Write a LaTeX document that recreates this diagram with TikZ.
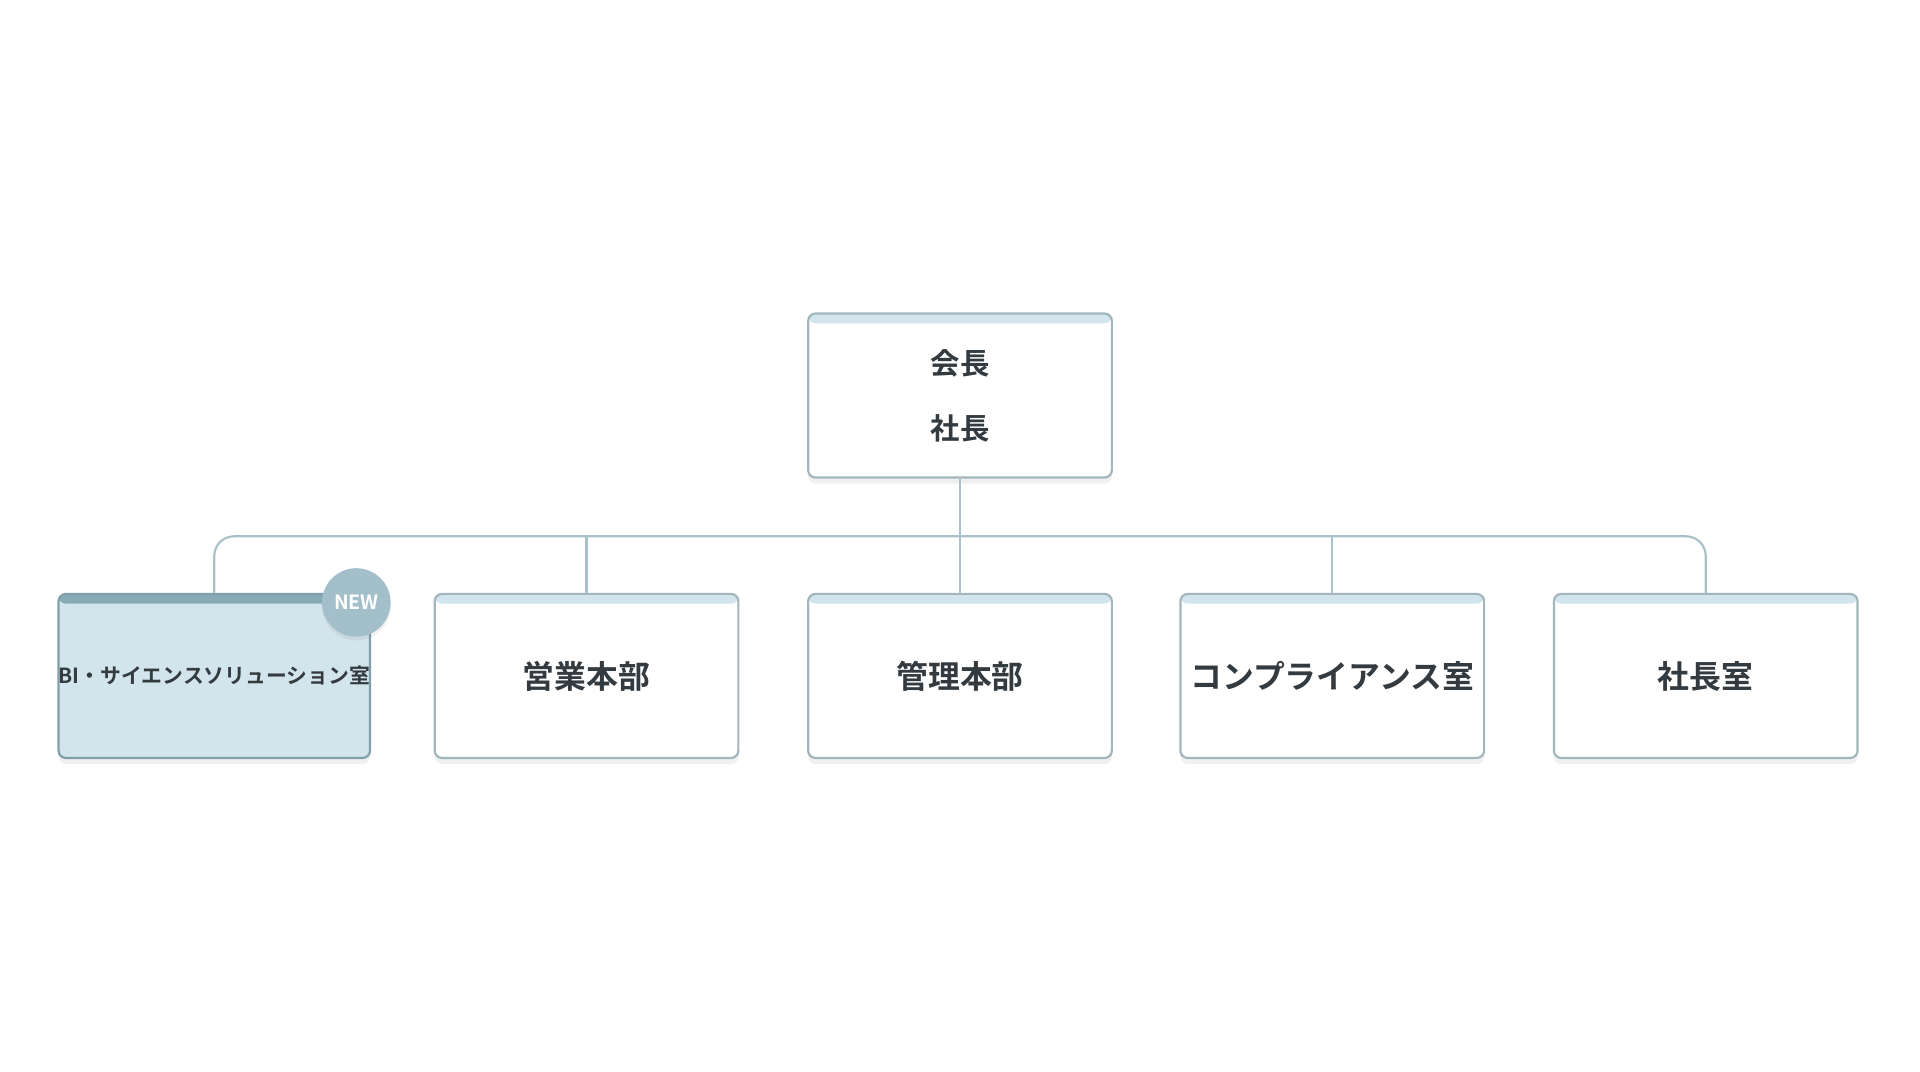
\documentclass[tikz,border=0pt]{standalone}
\usepackage{fontspec}
\setmainfont{Noto Sans CJK JP}[BoldFont={* Bold}]
\usetikzlibrary{shadows}
\definecolor{bord}{HTML}{A3B6BD}
\definecolor{bar}{HTML}{D2E5EC}
\definecolor{nfill}{HTML}{D3E5EC}
\definecolor{nbord}{HTML}{7FA0AA}
\definecolor{nbar}{HTML}{88AAB4}
\definecolor{newc}{HTML}{A3C0CA}
\definecolor{line}{HTML}{A9C2CA}
\definecolor{txt}{HTML}{333B40}
\begin{document}
\begin{tikzpicture}[x=0.5pt,y=-0.5pt,
 box/.style={rectangle,rounded corners=3pt,draw=bord,line width=0.9pt,fill=white,
   minimum width=124pt,minimum height=67pt,inner sep=0pt,text=txt,font=\bfseries\fontsize{13}{16}\selectfont,
   drop shadow={shadow xshift=0pt,shadow yshift=-2.5pt,opacity=0.12},
   path picture={\fill[bar] (path picture bounding box.north west) rectangle ([yshift=-4pt]path picture bounding box.north east);}},
 newbox/.style={box,fill=nfill,draw=nbord,font=\bfseries\fontsize{8.5}{10}\selectfont,
   path picture={\fill[nbar] (path picture bounding box.north west) rectangle ([yshift=-4pt]path picture bounding box.north east);}},
 conn/.style={draw=line,line width=0.9pt,rounded corners=8pt}]
\useasboundingbox (0,0) rectangle (1568,875);
\node[box,font=\bfseries\fontsize{12}{26.5}\selectfont,align=center] (top) at (784,323) {会長\\社長};
\node[newbox] (b1) at (175,552) {BI・サイエンスソリューション室};
\node[box] (b2) at (479,552) {営業本部};
\node[box] (b3) at (784,552) {管理本部};
\node[box] (b4) at (1088,552) {コンプライアンス室};
\node[box] (b5) at (1393,552) {社長室};
\coordinate (bus) at (784,438);
\draw[conn] (b1.north) -- (b1.north |- bus) -- (b5.north |- bus) -- (b5.north);
\draw[conn] (top.south) -- (b3.north);
\draw[conn] (b2.north |- bus) -- (b2.north);
\draw[conn] (b4.north |- bus) -- (b4.north);
\node[circle,fill=newc,minimum size=28pt,inner sep=0pt,text=white,font=\bfseries\fontsize{8}{9}\selectfont,
  drop shadow={shadow xshift=0pt,shadow yshift=-1.5pt,opacity=0.12}] (new) at (291,492) {NEW};
\end{tikzpicture}
\end{document}
